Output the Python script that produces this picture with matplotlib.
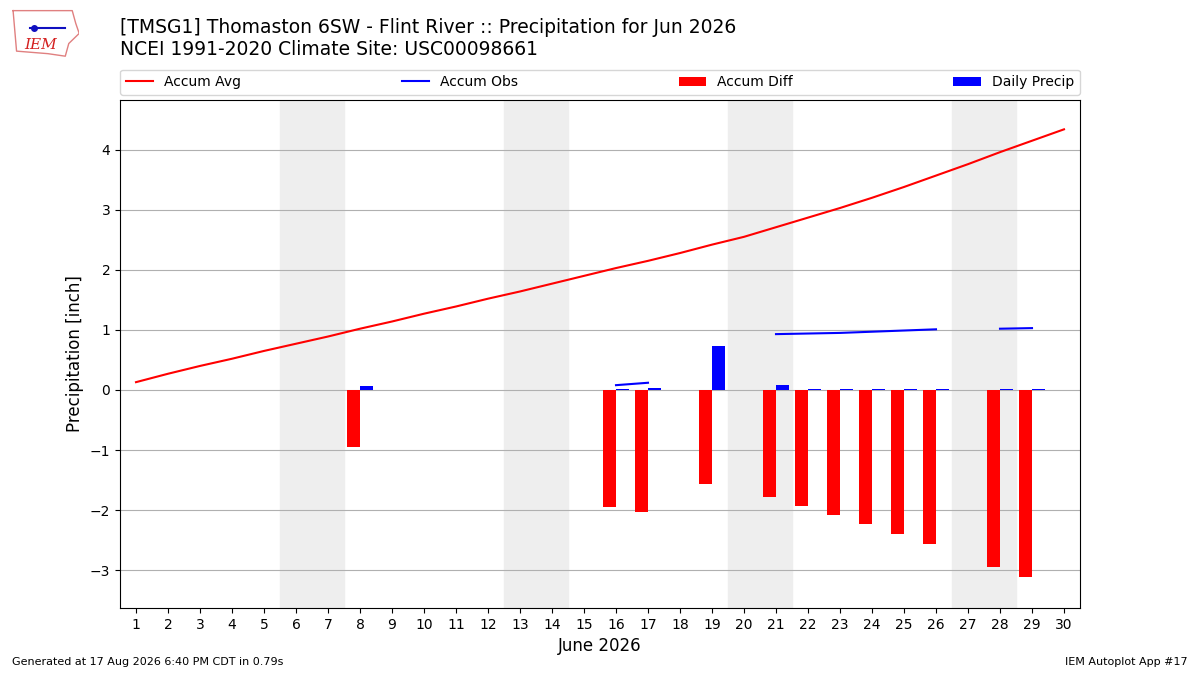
import numpy as np
import matplotlib
matplotlib.use("Agg")
import matplotlib.pyplot as plt

# ---------------------------------------------------------------------------
# Data
# ---------------------------------------------------------------------------
days = list(range(1, 31))
accum_avg = [0.13, 0.27, 0.40, 0.52, 0.65, 0.77, 0.89, 1.02, 1.14, 1.27,
             1.39, 1.52, 1.64, 1.77, 1.90, 2.03, 2.15, 2.28, 2.42, 2.55,
             2.71, 2.87, 3.03, 3.20, 3.38, 3.57, 3.76, 3.96, 4.15, 4.34]
nan = np.nan
accum_obs = [nan, nan, nan, nan, nan, nan, nan, 0.07, nan, nan,
             nan, nan, nan, nan, nan, 0.08, 0.12, nan, 0.85, nan,
             0.93, 0.94, 0.95, 0.97, 0.99, 1.01, nan, 1.02, 1.03, nan]
accum_diff = [nan, nan, nan, nan, nan, nan, nan, -0.95, nan, nan,
              nan, nan, nan, nan, nan, -1.95, -2.03, nan, -1.57, nan,
              -1.78, -1.93, -2.09, -2.24, -2.39, -2.57, nan, -2.95, -3.12, nan]
daily_precip = [nan, nan, nan, nan, nan, nan, nan, 0.07, nan, nan,
                nan, nan, nan, nan, nan, 0.01, 0.03, nan, 0.73, nan,
                0.08, 0.01, 0.01, 0.01, 0.01, 0.01, nan, 0.01, 0.01, nan]
weekends = [(6, 7), (13, 14), (20, 21), (27, 28)]

title = ("[TMSG1] Thomaston 6SW - Flint River :: Precipitation for Jun 2026\n"
         "NCEI 1991-2020 Climate Site: USC00098661")

# ---------------------------------------------------------------------------
# Plot
# ---------------------------------------------------------------------------
fig = plt.figure(figsize=(12, 6.75), dpi=100)
ax = fig.add_axes([0.1, 0.0993, 0.8, 0.7527])

for start, end in weekends:
    ax.axvspan(start - 0.5, end + 0.5, color="#eeeeee", zorder=0)

ax.plot(days, accum_avg, color="r", lw=1.5, label="Accum Avg", zorder=3)
ax.plot(days, accum_obs, color="b", lw=1.5, label="Accum Obs", zorder=3)
ax.bar(days, accum_diff, width=-0.4, align="edge", color="r",
       label="Accum Diff", zorder=2)
ax.bar(days, daily_precip, width=0.4, align="edge", color="b",
       label="Daily Precip", zorder=2)

ax.set_xlim(0.5, 30.5)
ax.set_ylim(-3.63, 4.83)
ax.set_xticks(days)
ax.set_yticks(range(-3, 5))
ax.tick_params(labelsize=10)
ax.grid(axis="y", color="#b0b0b0", lw=0.8)
ax.set_axisbelow(True)
ax.set_xlabel("June 2026", fontsize=12)
ax.set_ylabel("Precipitation [inch]", fontsize=12)

ax.legend(bbox_to_anchor=(0, 1.01, 1, 0.06), loc="lower left", ncol=4,
          mode="expand", borderaxespad=0, fontsize=10)

fig.text(0.1, 0.913, title, fontsize=13.5, va="bottom", ha="left",
         linespacing=1.2)

# simple stand-in for the IEM logo: outline + lettering
logo = fig.add_axes([0.008, 0.913, 0.058, 0.075])
logo.plot([0.05, 0.9, 0.95, 1.0, 0.85, 0.8, 0.55, 0.1, 0.05],
          [0.95, 0.95, 0.7, 0.5, 0.3, 0.05, 0.1, 0.15, 0.95],
          color="#e08080", lw=1)
logo.text(0.45, 0.28, "IEM", color="#d42020", fontsize=11,
          family="DejaVu Serif", style="italic", ha="center", va="center")
logo.plot([0.3, 0.8], [0.6, 0.6], color="#1010c0", lw=1.5)
logo.plot([0.35], [0.6], "o", color="#1010c0", ms=4)
logo.set_xlim(0, 1)
logo.set_ylim(0, 1)
logo.axis("off")

fig.text(0.01, 0.015, "Generated at 17 Aug 2026 6:40 PM CDT in 0.79s",
         fontsize=8)
fig.text(0.99, 0.015, "IEM Autoplot App #17", fontsize=8, ha="right")

fig.savefig("out.png", dpi=100)
